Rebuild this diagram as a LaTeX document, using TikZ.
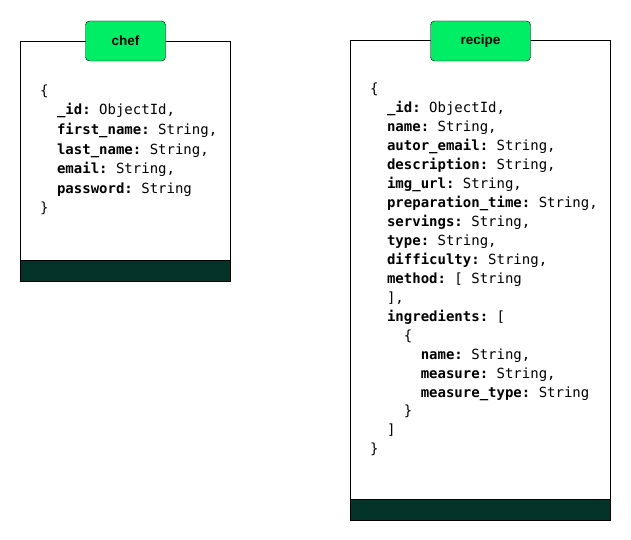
\documentclass[tikz,border=0pt]{standalone}
\usepackage{tikz}
\usepackage{xcolor}
\usepackage{fontspec}
\setmonofont{DejaVu Sans Mono}
\newfontfamily\headfont{Liberation Sans}
\definecolor{tabgreen}{HTML}{00EE66}
\definecolor{banddark}{HTML}{04332A}
\newcommand\fld[1]{\textbf{#1:}}

\begin{document}
\begin{tikzpicture}[x=1pt,y=-1pt]
\tikzstyle{every node}+=[inner sep=0pt]
\tikzstyle{tab}=[draw=black, fill=tabgreen, rounded corners=4pt, minimum height=40pt, font=\headfont\bfseries\fontsize{13.5pt}{16pt}\selectfont]
\tikzstyle{code}=[anchor=north west, align=left, font=\ttfamily\fontsize{14pt}{19.6pt}\selectfont]
\useasboundingbox (0,0) rectangle (631,540);
% chef collection
\draw [black, fill=white] (20,41) rectangle (230,281);
\fill [banddark] (20,260) rectangle (230,281);
\draw [black] (20,41) rectangle (230,281);
\draw [black] (20,260) -- (230,260);
\node [tab, minimum width=80pt] (cheftab) at (125.5,41) {chef};
\node [code] (chefbody) at (40,84.5) {\{\\
~~\fld{\_id} ObjectId,\\
~~\fld{first\_name} String,\\
~~\fld{last\_name} String,\\
~~\fld{email} String,\\
~~\fld{password} String\\
\}};
% recipe collection
\draw [black, fill=white] (350,40) rectangle (610,520);
\fill [banddark] (350,499) rectangle (610,520);
\draw [black] (350,40) rectangle (610,520);
\draw [black] (350,499) -- (610,499);
\node [tab, minimum width=100pt] (recipetab) at (480.5,41) {recipe};
\node [code, font=\ttfamily\fontsize{14pt}{18.95pt}\selectfont] (recipebody) at (370,83) {\{\\
~~\fld{\_id} ObjectId,\\
~~\fld{name} String,\\
~~\fld{autor\_email} String,\\
~~\fld{description} String,\\
~~\fld{img\_url} String,\\
~~\fld{preparation\_time} String,\\
~~\fld{servings} String,\\
~~\fld{type} String,\\
~~\fld{difficulty} String,\\
~~\fld{method} [ String\\
~~],\\
~~\fld{ingredients} [\\
~~~~\{\\
~~~~~~\fld{name} String,\\
~~~~~~\fld{measure} String,\\
~~~~~~\fld{measure\_type} String\\
~~~~\}\\
~~]\\
\}};
\end{tikzpicture}
\end{document}
